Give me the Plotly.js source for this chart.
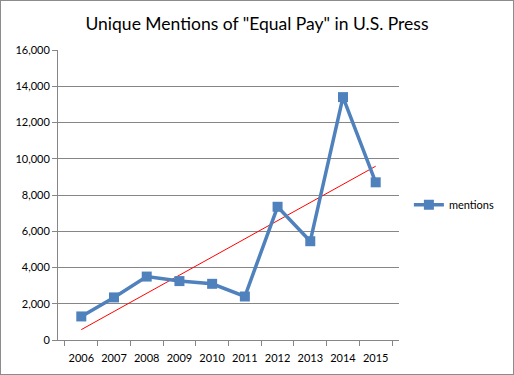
<!DOCTYPE html>
<html>
<head>
<meta charset="utf-8">
<script src="https://cdn.plot.ly/plotly-3.0.1.min.js"></script>
<style>
html,body{margin:0;padding:0;background:#fff;}
#wrap{width:514px;height:375px;box-sizing:border-box;border:1px solid #8c8c8c;overflow:hidden;}
#chart{width:512px;height:373px;}
</style>
</head>
<body>
<div id="wrap"><div id="chart"></div></div>
<script>
const years = ["2006","2007","2008","2009","2010","2011","2012","2013","2014","2015"];
const mentions = [1300, 2350, 3500, 3250, 3100, 2400, 7350, 5450, 13400, 8700];
const yTicks = [0, 2000, 4000, 6000, 8000, 10000, 12000, 14000, 16000];

// Linear trendline (least squares), as Excel computes it
const n = mentions.length;
const xs = mentions.map((_, i) => i + 1);
const mx = xs.reduce((a, b) => a + b, 0) / n;
const my = mentions.reduce((a, b) => a + b, 0) / n;
let sxy = 0, sxx = 0;
for (let i = 0; i < n; i++) { sxy += (xs[i] - mx) * (mentions[i] - my); sxx += (xs[i] - mx) ** 2; }
const slope = sxy / sxx, icpt = my - slope * mx;
const trend = xs.map(x => icpt + slope * x);

const font = "Lato, 'Open Sans', sans-serif";
const data = [
  {x: years, y: trend, type: "scatter", mode: "lines", line: {color: "#ff0000", width: 1}, showlegend: false, hoverinfo: "skip"},
  {x: years, y: mentions, type: "scatter", mode: "lines+markers", name: "mentions",
   line: {color: "#4f81bd", width: 3.5}, marker: {symbol: "square", size: 10, color: "#4f81bd"}}
];
const layout = {
  width: 512, height: 373,
  margin: {l: 57, r: 114, t: 48.5, b: 33.5, autoexpand: false},
  paper_bgcolor: "#fff", plot_bgcolor: "#fff",
  title: {text: 'Unique Mentions of "Equal Pay" in U.S. Press', font: {family: font, size: 17.5, color: "#000"}, x: 0.5, xanchor: "center", y: 0.94, yanchor: "middle"},
  xaxis: {type: "category", tickson: "boundaries", ticks: "outside", ticklen: 5, tickcolor: "#868686", tickangle: 0, automargin: false,
          ticklabelstandoff: 8,
          showline: true, linecolor: "#868686", linewidth: 1, showgrid: false, zeroline: false,
          tickfont: {family: font, size: 11, color: "#000"}},
  yaxis: {range: [0, 16000], tickvals: yTicks, tickformat: ",d", ticks: "outside", ticklen: 5, tickcolor: "#868686", automargin: false,
          showline: true, linecolor: "#868686", linewidth: 1, showgrid: true, gridcolor: "#868686", gridwidth: 1,
          zeroline: false, tickfont: {family: font, size: 11, color: "#000"}},
  legend: {x: 1.029, y: 0.466, xanchor: "left", yanchor: "middle", font: {family: font, size: 11, color: "#000"}, bgcolor: "rgba(0,0,0,0)"},
  showlegend: true
};
Plotly.newPlot("chart", data, layout, {displayModeBar: false, staticPlot: true});
</script>
</body>
</html>
